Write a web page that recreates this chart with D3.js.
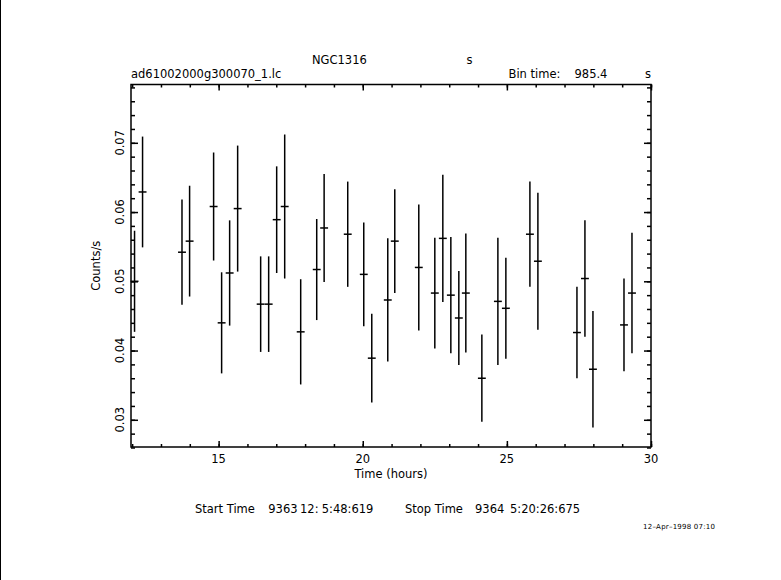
<!DOCTYPE html>
<html>
<head>
<meta charset="utf-8">
<script src="https://cdn.jsdelivr.net/npm/d3@7"></script>
<style>
  body { margin: 0; background: #fff; }
  svg { display: block; }
  text { font-family: "DejaVu Sans", sans-serif; fill: #000; white-space: pre; }
</style>
</head>
<body>
<svg id="chart" width="781" height="580"></svg>
<script>
// light curve bins (hours), count rate and 1-sigma error
const times = [12.083, 12.361, 13.729, 13.993, 14.826, 15.104, 15.382, 15.660, 16.458, 16.736,
  17.014, 17.292, 17.847, 18.403, 18.660, 19.479, 20.035, 20.313, 20.868, 21.111,
  21.944, 22.500, 22.778, 23.056, 23.333, 23.576, 24.132, 24.688, 24.965, 25.799,
  26.076, 27.431, 27.708, 27.986, 29.063, 29.340];
const rates = [0.0500, 0.0629, 0.0542, 0.0558, 0.0608, 0.0440, 0.0512, 0.0605, 0.0467, 0.0467,
  0.0589, 0.0608, 0.0427, 0.0517, 0.0577, 0.0568, 0.0510, 0.0389, 0.0473, 0.0558,
  0.0520, 0.0483, 0.0562, 0.0480, 0.0447, 0.0483, 0.0360, 0.0471, 0.0461, 0.0568,
  0.0529, 0.0426, 0.0504, 0.0373, 0.0437, 0.0483];
const errors = [0.0073, 0.0080, 0.0076, 0.0080, 0.0078, 0.0073, 0.0076, 0.0091, 0.0069, 0.0069,
  0.0077, 0.0104, 0.0076, 0.0073, 0.0078, 0.0076, 0.0075, 0.0064, 0.0089, 0.0075,
  0.0091, 0.0080, 0.0092, 0.0084, 0.0068, 0.0086, 0.0063, 0.0092, 0.0073, 0.0076,
  0.0099, 0.0066, 0.0084, 0.0084, 0.0067, 0.0087];

const binTime = 985.4; // seconds
const xMajor = [15, 20, 25, 30];
const xMinor = d3.range(12, 31, 1);
const yMajor = [0.03, 0.04, 0.05, 0.06, 0.07];
const yMinor = d3.range(0.026, 0.0785, 0.002);

const svg = d3.select('#chart');

// left edge border line of the page
svg.append('line')
  .attr('x1', 0.5).attr('x2', 0.5).attr('y1', 0).attr('y2', 580)
  .attr('stroke', '#000').attr('stroke-width', 1);

const frame = { left: 131, right: 651, top: 84.5, bottom: 447 };

const xScale = d3.scaleLinear().domain([11.96, 30.0]).range([frame.left, frame.right]);
const yScale = d3.scaleLinear().domain([0.02607, 0.07842]).range([frame.bottom, frame.top]);

const g = svg.append('g');

// frame
g.append('rect')
  .attr('x', frame.left).attr('y', frame.top)
  .attr('width', frame.right - frame.left).attr('height', frame.bottom - frame.top)
  .attr('fill', 'none').attr('stroke', '#000').attr('stroke-width', 1.5);

// inward ticks on all four sides
const addAxis = (axis, tx, ty) => {
  const a = g.append('g')
    .attr('transform', `translate(${tx}, ${ty})`)
    .call(axis);
  a.select('.domain').remove();
  a.selectAll('text').remove();
  a.selectAll('line').attr('stroke', '#000').attr('stroke-width', 1.5);
};

addAxis(d3.axisBottom(xScale).tickValues(xMinor).tickSize(-3), 0, frame.bottom);
addAxis(d3.axisBottom(xScale).tickValues(xMajor).tickSize(-6), 0, frame.bottom);
addAxis(d3.axisTop(xScale).tickValues(xMinor).tickSize(-3), 0, frame.top);
addAxis(d3.axisTop(xScale).tickValues(xMajor).tickSize(-6), 0, frame.top);
addAxis(d3.axisLeft(yScale).tickValues(yMinor).tickSize(-4), frame.left, 0);
addAxis(d3.axisLeft(yScale).tickValues(yMajor).tickSize(-7), frame.left, 0);
addAxis(d3.axisRight(yScale).tickValues(yMinor).tickSize(-4), frame.right, 0);
addAxis(d3.axisRight(yScale).tickValues(yMajor).tickSize(-7), frame.right, 0);

// tick labels
g.selectAll('.xlab')
  .data(xMajor)
  .join('text')
  .attr('class', 'xlab')
  .attr('x', d => xScale(d))
  .attr('y', 462.5)
  .attr('text-anchor', 'middle')
  .style('font-size', '11.5px')
  .text(d => d);

g.selectAll('.ylab')
  .data(yMajor)
  .join('text')
  .attr('class', 'ylab')
  .attr('transform', d => `translate(123.5, ${yScale(d)}) rotate(-90)`)
  .attr('text-anchor', 'middle')
  .style('font-size', '11.5px')
  .text(d => d3.format('.2f')(d));

// axis titles
svg.append('text')
  .attr('x', (frame.left + frame.right) / 2).attr('y', 477.5)
  .attr('text-anchor', 'middle')
  .style('font-size', '11.5px')
  .text('Time (hours)');

svg.append('text')
  .attr('transform', `translate(99.5, ${(frame.top + frame.bottom) / 2}) rotate(-90)`)
  .attr('text-anchor', 'middle')
  .style('font-size', '11.5px')
  .text('Counts/s');

// error bars
const halfBin = binTime / 3600 / 2;
const pts = times.map((t, i) => ({ t, r: rates[i], e: errors[i] }));

const bars = g.append('g').attr('stroke', '#000').attr('stroke-width', 1.5);

bars.selectAll('.ebar')
  .data(pts)
  .join('line')
  .attr('class', 'ebar')
  .attr('x1', d => xScale(d.t)).attr('x2', d => xScale(d.t))
  .attr('y1', d => yScale(d.r - d.e)).attr('y2', d => yScale(d.r + d.e));

bars.selectAll('.tbar')
  .data(pts)
  .join('line')
  .attr('class', 'tbar')
  .attr('x1', d => xScale(d.t - halfBin)).attr('x2', d => xScale(d.t + halfBin))
  .attr('y1', d => yScale(d.r)).attr('y2', d => yScale(d.r));

// header texts
const header = [
  { x: 312, y: 64.3, s: 'NGC1316', a: 'start' },
  { x: 466.5, y: 64.3, s: 's', a: 'start' },
  { x: 131, y: 78.3, s: 'ad61002000g300070_1.lc', a: 'start' },
  { x: 508.5, y: 78.3, s: 'Bin time:', a: 'start' },
  { x: 574.5, y: 78.3, s: '985.4', a: 'start' },
  { x: 651, y: 78.3, s: 's', a: 'end' }
];
svg.selectAll('.head')
  .data(header)
  .join('text')
  .attr('class', 'head')
  .attr('x', d => d.x).attr('y', d => d.y)
  .attr('text-anchor', d => d.a)
  .style('font-size', '11.5px')
  .text(d => d.s);

// start / stop line
const footer = [
  { x: 195, s: 'Start Time' },
  { x: 268.3, s: '9363' },
  { x: 300, s: '12:' },
  { x: 321.7, s: '5:48:619' },
  { x: 405, s: 'Stop Time' },
  { x: 475, s: '9364' },
  { x: 510, s: '5:20:26:675' }
];
svg.selectAll('.foot')
  .data(footer)
  .join('text')
  .attr('class', 'foot')
  .attr('x', d => d.x).attr('y', 512.7)
  .style('font-size', '11.5px')
  .text(d => d.s);

svg.append('text')
  .attr('x', 643).attr('y', 528.7)
  .attr('textLength', 72)
  .style('font-size', '7px')
  .text('12\u2013Apr\u20131998 07:10');
</script>
</body>
</html>
